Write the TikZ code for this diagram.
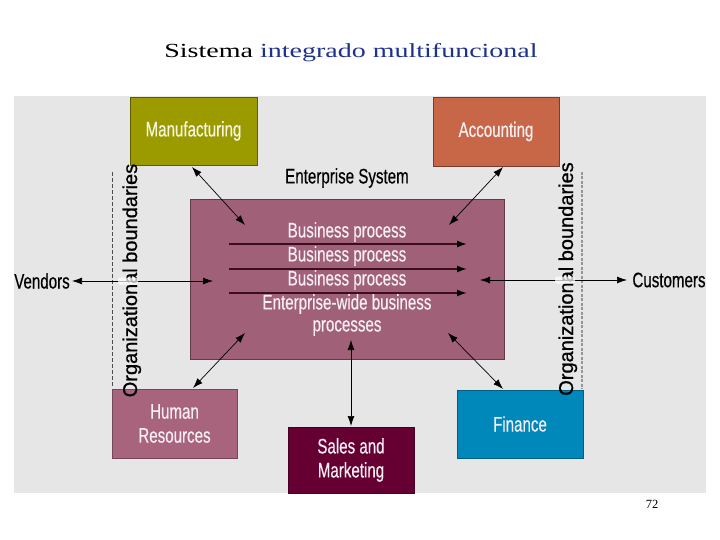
\documentclass[tikz,border=0pt]{standalone}
\usepackage{fontspec}
\usetikzlibrary{arrows.meta}
\newfontfamily\narfont[FakeStretch=0.72,FakeBold=0.4]{Liberation Sans}
\newfontfamily\orgfont[FakeBold=0.8]{Liberation Sans}
\newfontfamily\ttlfont[FakeStretch=1.4]{Liberation Serif}
\newfontfamily\pgfont{Liberation Serif}
\definecolor{bggray}{RGB}{230,230,230}
\definecolor{olive}{RGB}{155,155,0}
\definecolor{acct}{RGB}{200,102,72}
\definecolor{mauve}{RGB}{160,96,120}
\definecolor{hrc}{RGB}{168,100,124}
\definecolor{salesc}{RGB}{102,0,51}
\definecolor{finc}{RGB}{0,136,187}
\definecolor{ttlblue}{RGB}{30,50,140}
\definecolor{boxtext}{RGB}{245,238,242}
\definecolor{innerline}{RGB}{60,12,34}
\definecolor{dashgray}{RGB}{150,150,150}
\tikzset{
  unitbox/.style={draw, inner sep=0pt, text=boxtext, align=center,
    font=\narfont\fontsize{21}{24}\selectfont},
  lbl/.style={inner sep=0pt, font=\narfont\fontsize{21}{24}\selectfont},
  inlbl/.style={inner sep=0pt, text=boxtext, font=\narfont\fontsize{21}{24}\selectfont},
  orglbl/.style={inner sep=0pt, rotate=90, anchor=base, font=\orgfont\fontsize{20}{24}\selectfont},
  dbl/.style={{Latex[length=10pt,width=7pt]}-{Latex[length=10pt,width=7pt]}, line width=0.7pt},
  sgl/.style={-{Latex[length=10pt,width=7pt,black]}, line width=1.6pt, innerline},
  patch/.style={fill=white, fill opacity=0.7, draw=none, rounded corners=2pt, minimum width=20pt, minimum height=7pt, inner sep=0pt}
}
\begin{document}
\begin{tikzpicture}[x=1pt,y=-1pt]
\useasboundingbox (0,0) rectangle (720,540);
\fill[white] (0,0) rectangle (720,540);
% title
\node[anchor=base, inner sep=0pt, font=\ttlfont\fontsize{20}{24}\selectfont] (title) at (351,58) {Sistema \textcolor{ttlblue}{integrado multifuncional}};
% background
\fill[bggray] (14,96) rectangle (706,493);
% dashed boundaries
\draw[line width=0.6pt, black!70, dash pattern=on 4pt off 2pt] (112,172) coordinate (ldt) -- (112,386) coordinate (ldb);
\draw[dashgray, line width=2pt, dash pattern=on 3pt off 1.5pt] (582,172) coordinate (rdt) -- (582,389) coordinate (rdb);
% boxes
\node[unitbox, fill=olive, draw=olive!60!black, minimum width=127pt, minimum height=68pt, text={rgb,255:red,245;green,245;blue,225}] (manuf) at (193.5,131) {Manufacturing};
\node[unitbox, fill=acct, draw=acct!60!black, minimum width=126pt, minimum height=69pt] (acct) at (496,131.5) {Accounting};
\node[draw=mauve!60!black, fill=mauve, inner sep=0pt, minimum width=314pt, minimum height=160pt] (ent) at (347,279) {};
\node[unitbox, fill=hrc, draw=hrc!70!black, minimum width=125pt, minimum height=69pt] (hr) at (174.5,423.5) {Human\\Resources};
\node[unitbox, fill=salesc, draw=salesc!70!black, minimum width=126pt, minimum height=66pt] (sales) at (351,460) {Sales and\\Marketing};
\node[unitbox, fill=finc, draw=finc!70!black, minimum width=126pt, minimum height=68pt] (fin) at (520,424) {Finance};
% labels
\node[lbl] (entsys) at (347,178) {Enterprise System};
\node[lbl] (vend) at (42,281) {Vendors};
\node[lbl] (cust) at (669,280) {Customers};
\node[orglbl] (orgl) at (137,280.5) {Organizational boundaries};
\node[orglbl] (orgr) at (573,279) {Organizational boundaries};
% inner texts
\node[inlbl] (bp1) at (347,232) {Business process};
\node[inlbl] (bp2) at (347,256) {Business process};
\node[inlbl] (bp3) at (347,280) {Business process};
\node[inlbl] (ewb) at (347,304) {Enterprise-wide business};
\node[inlbl] (proc) at (347,328) {processes};
% inner arrows
\coordinate (a1s) at (229,244); \coordinate (a1e) at (467,244);
\coordinate (a2s) at (229,269); \coordinate (a2e) at (467,269);
\coordinate (a3s) at (229,293); \coordinate (a3e) at (467,293);
\draw[sgl] (a1s) -- (a1e);
\draw[sgl] (a2s) -- (a2e);
\draw[sgl] (a3s) -- (a3e);
% connector end points
\coordinate (mA) at (192,167); \coordinate (mB) at (245,225);
\coordinate (cA) at (503,167); \coordinate (cB) at (449,225);
\coordinate (hA) at (245,333); \coordinate (hB) at (193,388);
\coordinate (fA) at (448,333); \coordinate (fB) at (503,389);
\coordinate (sA) at (351,340); \coordinate (sB) at (351,426);
\coordinate (vA) at (72,281); \coordinate (vB) at (213,281);
\coordinate (uA) at (480,280); \coordinate (uB) at (627,280);
\draw[dbl] (mA) -- (mB);
\draw[dbl] (cA) -- (cB);
\draw[dbl] (hA) -- (hB);
\draw[dbl] (fA) -- (fB);
\draw[dbl] (sA) -- (sB);
\draw[dbl] (vA) -- (vB);
\draw[dbl] (uA) -- (uB);
% white patches where lines cross the boundary labels
\node[patch] (pl) at (128,281) {};
\node[patch] (pr) at (565,280) {};
% page number
\node[inner sep=0pt, font=\pgfont\fontsize{12.5}{14}\selectfont] (pg) at (652,504) {72};
\end{tikzpicture}
\end{document}
